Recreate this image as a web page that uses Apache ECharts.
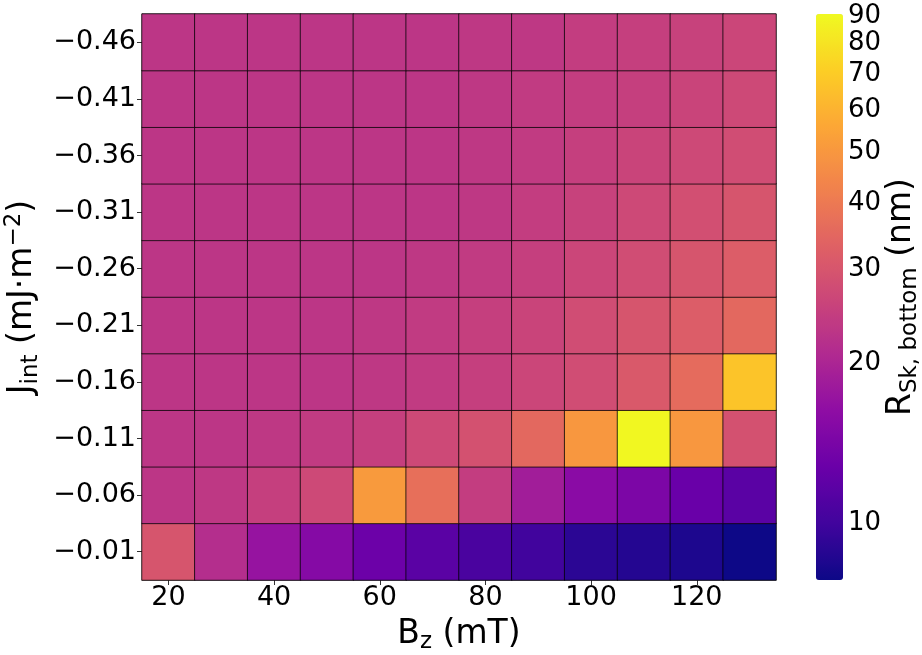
<!DOCTYPE html>
<html>
<head>
<meta charset="utf-8">
<script src="https://cdn.jsdelivr.net/npm/echarts@6/dist/echarts.min.js"></script>
<style>
  html, body { margin: 0; padding: 0; background: #fff; }
  #chart { width: 922px; height: 655px; }
</style>
</head>
<body>
<div id="chart"></div>
<script>
// B_z (mT) columns
var bzValues = [20, 30, 40, 50, 60, 70, 80, 90, 100, 110, 120, 130];
// J_int rows, bottom to top
var jintValues = ['-0.01', '-0.06', '-0.11', '-0.16', '-0.21', '-0.26', '-0.31', '-0.36', '-0.41', '-0.46'];

// R_Sk,bottom (nm), one array per J_int row
var row001 = [30, 21.5, 17.2, 15.3, 12.9, 11.6, 10.5, 10, 9, 8.7, 8.4, 7.8];
var row006 = [23, 23.5, 25, 27, 51, 37, 24.5, 18.6, 15.8, 14.4, 12.7, 11.6];
var row011 = [23, 23, 23.5, 24, 25, 27, 29, 35, 50, 90, 50, 29];
var row016 = [23, 23, 23, 23, 23.5, 24, 25, 26.5, 28, 31, 36, 67];
var row021 = [23, 23, 23, 23, 23.5, 24, 25, 26, 28, 30, 32, 35];
var row026 = [23, 23, 23, 23, 23, 23.5, 24, 25, 26.5, 28, 30, 32];
var row031 = [23, 23, 23, 23, 23, 23, 23.5, 24.5, 25.5, 27, 28.5, 30];
var row036 = [23, 23, 23, 23, 23, 23, 23.5, 24, 25, 26, 27, 28];
var row041 = [23, 23, 23, 23, 23, 23, 23.5, 24, 24.5, 25, 26, 27];
var row046 = [23, 23, 23, 23, 23, 23, 23.5, 23.5, 24.5, 25, 25.5, 26.5];
var rows = [row001, row006, row011, row016, row021, row026, row031, row036, row041, row046];

var colorbarTicks = [10, 20, 30, 40, 50, 60, 70, 80, 90];
var colorbarMinorTicks = [8, 9];
var cMin = 7.8, cMax = 91;

var plasma = ['#0d0887', '#41049d', '#6a00a8', '#8f0da4', '#b12a90', '#cc4778',
              '#e16462', '#f2844b', '#fca636', '#fcce25', '#f0f921'];

var heatData = [];
rows.forEach(function (row, j) {
  row.forEach(function (v, i) {
    heatData.push([i, j, v, Math.log10(v)]);
  });
});

var fontFamily = 'DejaVu Sans';
var labelColor = '#000';
var titleRich = {
  a: { fontSize: 33, color: labelColor, fontFamily: fontFamily, lineHeight: 40 },
  s: { fontSize: 23, color: labelColor, fontFamily: fontFamily, verticalAlign: 'bottom', lineHeight: 26 },
  p: { fontSize: 23, color: labelColor, fontFamily: fontFamily, verticalAlign: 'top', lineHeight: 26 }
};

var myChart = echarts.init(document.getElementById('chart'));
myChart.setOption({
  backgroundColor: '#fff',
  textStyle: { fontFamily: fontFamily },
  animation: false,
  grid: [
    { left: 142, right: 146, top: 14, bottom: 75, show: true, borderColor: '#888', borderWidth: 1,
      containLabel: false, outerBoundsMode: 'none' },
    { left: 816, width: 27, top: 14, bottom: 75, containLabel: false, outerBoundsMode: 'none' }
  ],
  xAxis: [
    {
      type: 'category',
      gridIndex: 0,
      data: bzValues,
      axisLine: { show: true, lineStyle: { color: '#888' } },
      axisTick: { show: true, alignWithLabel: true, interval: 1, length: 5, lineStyle: { color: '#333' } },
      axisLabel: { interval: 1, color: labelColor, fontSize: 27, margin: 4 },
      splitLine: { show: false },
      name: '{a|B}{s|z}{a| (mT)}',
      nameLocation: 'middle',
      nameGap: 34,
      nameTextStyle: { rich: titleRich }
    },
    { type: 'value', gridIndex: 1, show: false, min: 0, max: 1 }
  ],
  yAxis: [
    {
      type: 'category',
      gridIndex: 0,
      data: jintValues,
      axisLine: { show: true, lineStyle: { color: '#888' } },
      axisTick: { show: true, alignWithLabel: true, length: 5, lineStyle: { color: '#333' } },
      axisLabel: {
        color: labelColor, fontSize: 27, margin: 6,
        formatter: function (v) { return v.replace('-', '\u2212'); }
      },
      splitLine: { show: false },
      name: '{a|J}{s|int}{a| (mJ·m}{p|\u22122}{a|)}',
      nameLocation: 'middle',
      nameRotate: 90,
      nameGap: 90,
      nameTextStyle: { rich: titleRich }
    },
    {
      type: 'value',
      gridIndex: 1,
      position: 'right',
      min: Math.log10(cMin),
      max: Math.log10(cMax),
      axisLine: { show: false },
      splitLine: { show: false },
      axisTick: {
        show: true, length: 5, lineStyle: { color: '#333' },
        customValues: colorbarTicks.concat(colorbarMinorTicks).map(function (v) { return Math.log10(v); })
      },
      axisLabel: {
        color: labelColor, fontSize: 26, margin: 5,
        customValues: colorbarTicks.map(function (v) { return Math.log10(v); }),
        formatter: function (v) { return String(Math.round(Math.pow(10, v))); }
      },
      name: '{a|R}{s|Sk, bottom}{a| (nm)}',
      nameLocation: 'middle',
      nameRotate: 90,
      nameGap: 36,
      nameTextStyle: { rich: titleRich }
    }
  ],
  visualMap: {
    type: 'continuous',
    dimension: 3,
    seriesIndex: 0,
    min: Math.log10(cMin),
    max: Math.log10(cMax),
    left: 816,
    top: 14,
    itemWidth: 27,
    itemHeight: 566,
    padding: 0,
    calculable: false,
    hoverLink: false,
    text: ['', ''],
    showLabel: false,
    inRange: { color: plasma }
  },
  series: [
    {
      type: 'heatmap',
      xAxisIndex: 0,
      yAxisIndex: 0,
      data: heatData,
      itemStyle: { borderColor: 'rgba(0,0,0,0.75)', borderWidth: 1 },
      emphasis: { disabled: true }
    }
  ]
});
</script>
</body>
</html>
